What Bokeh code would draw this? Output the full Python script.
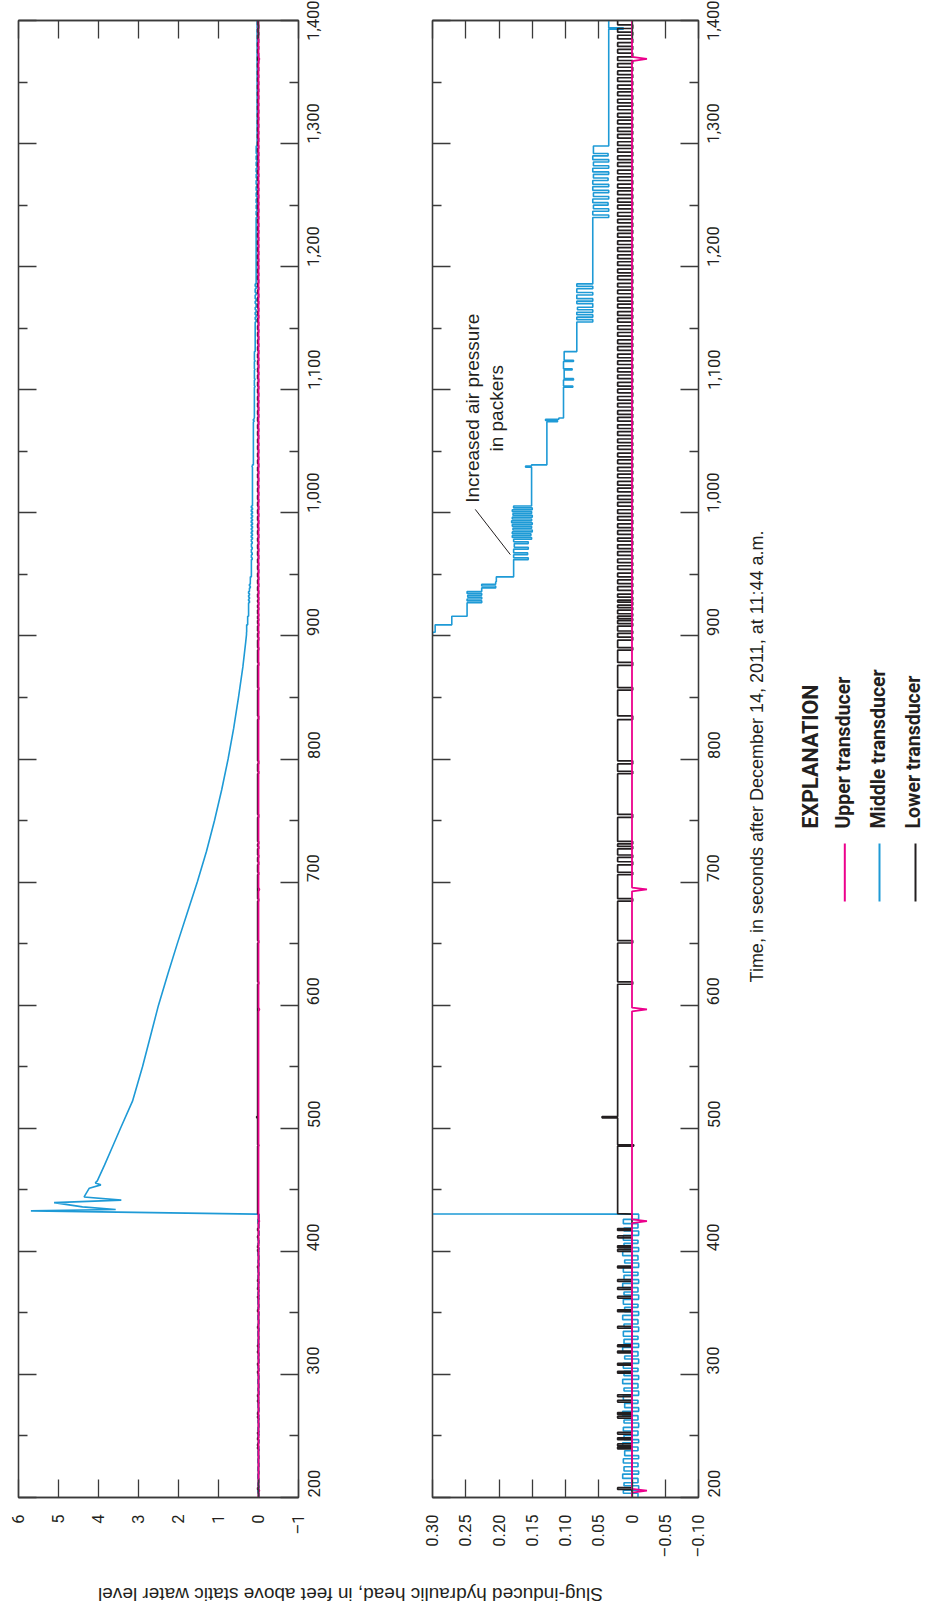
import math
from bokeh.plotting import figure
from bokeh.models import Range1d, LinearAxis, FixedTicker, CustomJSTickFormatter, NumeralTickFormatter, ColumnDataSource
from bokeh.layouts import row, column
from bokeh.core.properties import value
from bokeh.embed import file_html
from bokeh.resources import INLINE

# ---------------- data ----------------
time_ticks = [200, 300, 400, 500, 600, 700, 800, 900, 1000, 1100, 1200, 1300, 1400]
time_minor = [250, 350, 450, 550, 650, 750, 850, 950, 1050, 1150, 1250, 1350]
head_ticks_top = [-1, 0, 1, 2, 3, 4, 5, 6]
head_ticks_bottom = [-0.10, -0.05, 0.0, 0.05, 0.10, 0.15, 0.20, 0.25, 0.30]

# Upper transducer (pink): flat at zero with short negative spikes
upper_t = [200, 204.0, 205.5, 207.0, 423.0, 424.5, 426.0, 595.0, 596.5, 598.0,
           692.5, 694.0, 695.5, 1367.0, 1368.8, 1370.5, 1400]
upper_v = [0, 0, -0.0225, 0, 0, -0.0225, 0, 0, -0.0225, 0,
           0, -0.0225, 0, 0, -0.0225, 0, 0]

# Middle transducer (blue), before the slug: level changes (time, level)
mid_pre_t = [200.0, 203.5, 206.0, 209.5, 212.0, 215.5, 219.0, 221.5, 225.0, 228.0,
             231.5, 234.0, 238.0, 241.0, 244.5, 247.0, 250.5, 254.0, 257.0, 260.5,
             263.0, 266.5, 270.0, 273.0, 276.5, 279.0, 283.0, 286.5, 289.0, 292.5,
             296.0, 299.0, 302.5, 305.0, 309.0, 312.5, 315.0, 318.5, 322.0, 325.0,
             328.5, 331.0, 335.0, 338.5, 341.0, 344.5, 348.0, 351.0, 354.5, 357.0,
             361.0, 364.5, 367.0, 370.5, 374.0, 377.0, 380.5, 383.0, 387.0, 390.5,
             393.0, 396.5, 400.0, 403.0, 406.5, 409.0, 413.0, 416.5, 419.0, 422.5, 426.0]
mid_pre_v = [-0.009, 0.013, -0.010, 0.012, -0.009, 0.014, -0.010, 0.012, -0.009, 0.013,
             -0.010, 0.011, -0.009, 0.014, -0.010, 0.012, -0.009, 0.013, -0.010, 0.012,
             -0.009, 0.014, -0.010, 0.011, -0.009, 0.013, -0.010, 0.012, -0.009, 0.014,
             -0.010, 0.012, -0.009, 0.013, -0.010, 0.011, -0.009, 0.014, -0.010, 0.012,
             -0.009, 0.013, -0.010, 0.012, -0.009, 0.014, -0.010, 0.011, -0.009, 0.013,
             -0.010, 0.012, -0.009, 0.014, -0.010, 0.012, -0.009, 0.013, -0.010, 0.011,
             -0.009, 0.014, -0.010, 0.012, -0.009, 0.013, -0.010, 0.012, -0.009, 0.013, -0.010]

# Middle transducer: slug response and recovery (time, head)
mid_slug_t = [430.2, 432.9, 434.0, 436.1, 439.6, 441.6, 444.2, 451.3, 454.0, 455.6,
              457.2, 470, 485, 500, 522, 550, 575, 600, 625, 650,
              675, 700, 725, 750, 775, 800, 825, 850, 875, 895]
mid_slug_v = [0.0, 5.69, 3.57, 4.40, 5.11, 3.43, 4.36, 4.23, 3.94, 4.08,
              4.03, 3.85, 3.65, 3.45, 3.15, 2.90, 2.70, 2.50, 2.27, 2.03,
              1.78, 1.53, 1.30, 1.10, 0.92, 0.76, 0.62, 0.50, 0.39, 0.32]

# Middle transducer: stepwise tail (packer pressure increases), level changes
mid_tail_t = [901, 903, 909, 916, 927, 928.5, 930, 931.5, 933, 934.5,
              936, 939, 940.5, 942, 944, 948, 962, 963.5, 966, 967.5,
              970.5, 972, 975, 976.5, 978.5, 980, 981.5, 983, 984.5, 986,
              987.5, 989, 990.5, 992, 993.5, 995, 996.5, 998, 999.5, 1001,
              1002.5, 1004, 1005.5, 1037, 1038, 1039, 1074, 1075, 1076, 1077,
              1102, 1103, 1108, 1109, 1116, 1117, 1123, 1124, 1131, 1155,
              1157, 1159, 1161, 1163, 1165, 1167, 1170, 1172, 1174, 1177,
              1179, 1182, 1184, 1186, 1240, 1242, 1245, 1247, 1250, 1252,
              1255, 1257, 1260, 1262, 1265, 1267, 1270, 1272, 1275, 1277,
              1280, 1282, 1285, 1287, 1290, 1292, 1298, 1393, 1394]
mid_tail_v = [0.300, 0.296, 0.271, 0.248, 0.226, 0.248, 0.226, 0.247, 0.226, 0.248,
              0.226, 0.205, 0.226, 0.205, 0.204, 0.178, 0.156, 0.178, 0.157, 0.178,
              0.156, 0.177, 0.156, 0.178, 0.151, 0.180, 0.152, 0.180, 0.150, 0.179,
              0.151, 0.180, 0.150, 0.181, 0.151, 0.180, 0.150, 0.179, 0.151, 0.180,
              0.150, 0.178, 0.151, 0.160, 0.151, 0.128, 0.112, 0.130, 0.110, 0.103,
              0.089, 0.103, 0.088, 0.102, 0.090, 0.103, 0.088, 0.102, 0.083, 0.059,
              0.083, 0.059, 0.083, 0.059, 0.082, 0.059, 0.083, 0.059, 0.083, 0.059,
              0.083, 0.059, 0.083, 0.059, 0.035, 0.059, 0.035, 0.058, 0.036, 0.059,
              0.035, 0.058, 0.035, 0.059, 0.035, 0.059, 0.036, 0.058, 0.035, 0.059,
              0.035, 0.058, 0.035, 0.059, 0.036, 0.058, 0.035, 0.013, 0.035]

# Lower transducer (black): before the slug, base 0 with short rises
lower_pre_start = [206.5, 239.5, 242.0, 247.0, 251.5, 264.5, 267.5, 277.5, 282.0, 301.0,
                   307.5, 317.5, 322.5, 337.5, 351.0, 362.0, 369.0, 375.5, 386.5, 400.0,
                   403.0, 411.0, 417.0]
lower_pre_end = [208.0, 241.0, 243.5, 248.5, 253.0, 266.0, 269.0, 279.0, 283.5, 302.5,
                 309.0, 319.0, 324.0, 339.0, 352.5, 363.5, 370.5, 377.0, 388.0, 401.5,
                 404.5, 412.5, 418.5]
lower_pre_base = 0.0
lower_pre_level = 0.0216
# after the slug: base 0.0216 with dips / spikes
lower_post_base = 0.0216
lower_evt_start = [485.5, 508.5, 617.0, 650.5, 684.5, 706.0, 714.0, 720.0, 727.0, 731.0,
                   752.5, 788.0, 796.0, 832.0, 856.0, 876.0, 888.5, 896.5, 902.0, 908.0,
                   912.5, 916.0, 921.0, 925.0, 929.0,
                   934, 940, 945.5, 951, 957, 962.5, 968.5, 974, 979.5, 985.5,
                   991, 997, 1002.5, 1008.5, 1014, 1020, 1025.5, 1031.5, 1037, 1043,
                   1048.5, 1054.5, 1060, 1066, 1071.5, 1077.5, 1083, 1089, 1094.5, 1100.5,
                   1106, 1112, 1117.5, 1123.5, 1129, 1135, 1140.5, 1146.5, 1152, 1158,
                   1163.5, 1169.5, 1175, 1181, 1186.5, 1192.5, 1198, 1204, 1209.5, 1215.5,
                   1221, 1227, 1232.5, 1238.5, 1244, 1250, 1255.5, 1261.5, 1267, 1273,
                   1278.5, 1284.5, 1290, 1296, 1301.5, 1307.5, 1313, 1319, 1324.5, 1330.5,
                   1336, 1342, 1347.5, 1353.5, 1359, 1365, 1370.5, 1376.5, 1382, 1388, 1393.5]
lower_evt_end = [486.5, 509.5, 619.0, 652.5, 686.5, 708.0, 716.5, 722.0, 729.0, 733.0,
                 755.0, 790.0, 798.5, 835.0, 858.0, 878.5, 890.5, 899.0, 904.0, 910.0,
                 914.0, 918.0, 923.0, 927.5, 931.5,
                 937, 942.5, 948, 954, 959.5, 965.5, 971, 977, 982.5, 988,
                 994, 999.5, 1005.5, 1011, 1017, 1022.5, 1028.5, 1034, 1040, 1045.5,
                 1051.5, 1057, 1063, 1068.5, 1074.5, 1080, 1086, 1091.5, 1097.5, 1103,
                 1109, 1114.5, 1120.5, 1126, 1132, 1137.5, 1143.5, 1149, 1155, 1160.5,
                 1166.5, 1172, 1178, 1183.5, 1189.5, 1195, 1201, 1206.5, 1212.5, 1218,
                 1224, 1229.5, 1235.5, 1241, 1247, 1252.5, 1258.5, 1264, 1270, 1275.5,
                 1281.5, 1287, 1293, 1298.5, 1304.5, 1310, 1316, 1321.5, 1327.5, 1333,
                 1339, 1344.5, 1350.5, 1356, 1362, 1367.5, 1373.5, 1379, 1385, 1390.5, 1396.5]
lower_evt_level = [-0.0025, 0.045] + [-0.001] * (len(lower_evt_start) - 2)

legend_names = ["Upper transducer", "Middle transducer", "Lower transducer"]

# ---------------- building line vertices from the read values ----------------
def stairs(ts, vs, t_end):
    xs, ys = [], []
    for i, (t, v) in enumerate(zip(ts, vs)):
        tn = ts[i + 1] if i + 1 < len(ts) else t_end
        xs += [t, tn]
        ys += [v, v]
    return xs, ys

def pulses(t_from, t_to, base, starts, ends, levels):
    xs, ys = [t_from], [base]
    for a, b, lv in zip(starts, ends, levels):
        xs += [a, a, b, b]
        ys += [base, lv, lv, base]
    xs.append(t_to)
    ys.append(base)
    return xs, ys

a_t, a_v = stairs(mid_pre_t, mid_pre_v, 430.2)
c_t, c_v = stairs(mid_tail_t, mid_tail_v, 1400)
mid_t = a_t + mid_slug_t + c_t
mid_v = a_v + mid_slug_v + c_v

l1_t, l1_v = pulses(200, 430.3, lower_pre_base, lower_pre_start, lower_pre_end,
                    [lower_pre_level] * len(lower_pre_start))
l2_t, l2_v = pulses(430.6, 1400, lower_post_base, lower_evt_start, lower_evt_end, lower_evt_level)
lower_t = l1_t + l2_t
lower_v = l1_v + l2_v

PINK = "#EC008C"
BLUE = "#1E9AD6"
BLACK = "#231F20"
AX = "#3a3a3a"
TICKFONT = "Roboto"
SANS = "Liberation Sans"

src_upper = ColumnDataSource(dict(head=upper_v, time=upper_t))
src_mid = ColumnDataSource(dict(head=mid_v, time=mid_t))
src_lower = ColumnDataSource(dict(head=lower_v, time=lower_t))

EMPTY = CustomJSTickFormatter(code='return "";')

ROW_H = 1570          # height of the two panels' row
FRAME_TOP = 20
FRAME_BOTTOM = 1497


def style_axis(ax, ticker, label_font_px="16.5px"):
    ax.ticker = ticker
    ax.axis_line_color = AX
    ax.axis_line_width = 1.3
    ax.major_tick_line_color = AX
    ax.major_tick_line_width = 1.3
    ax.minor_tick_line_color = AX
    ax.minor_tick_line_width = 1.3
    ax.major_tick_in = 18
    ax.major_tick_out = 0
    ax.minor_tick_in = 9
    ax.minor_tick_out = 0
    ax.major_label_text_font = TICKFONT
    ax.major_label_text_font_size = label_font_px
    ax.major_label_text_color = BLACK


def panel(width, x_start, x_end, head_ticks, head_code, min_left, min_right):
    p = figure(width=width, height=ROW_H, x_range=Range1d(x_start, x_end),
               y_range=Range1d(200, 1400), output_backend="svg", toolbar_location=None,
               x_axis_location="below", y_axis_location="right",
               min_border_left=min_left, min_border_right=min_right,
               min_border_top=FRAME_TOP, min_border_bottom=ROW_H - FRAME_BOTTOM)
    p.grid.visible = False
    p.outline_line_color = AX
    p.outline_line_width = 1.3
    p.background_fill_color = "white"
    p.border_fill_color = "white"

    xa = p.xaxis[0]
    style_axis(xa, FixedTicker(ticks=head_ticks))
    xa.formatter = CustomJSTickFormatter(code=head_code)
    xa.major_label_orientation = math.pi / 2
    xa.major_label_standoff = 17

    ya = p.yaxis[0]
    style_axis(ya, FixedTicker(ticks=time_ticks, minor_ticks=time_minor))
    ya.formatter = NumeralTickFormatter(format="0,0")
    ya.major_label_orientation = math.pi / 2
    ya.major_label_standoff = 15

    top = LinearAxis()
    style_axis(top, FixedTicker(ticks=head_ticks), "1px")
    top.formatter = EMPTY
    top.major_label_standoff = 0
    p.add_layout(top, "above")

    left = LinearAxis()
    style_axis(left, FixedTicker(ticks=time_ticks, minor_ticks=time_minor), "1px")
    left.formatter = EMPTY
    left.major_label_standoff = 0
    p.add_layout(left, "left")

    p.line("head", "time", source=src_mid, line_color=BLUE, line_width=1.6)
    p.line("head", "time", source=src_lower, line_color=BLACK, line_width=1.7)
    p.line("head", "time", source=src_upper, line_color=PINK, line_width=1.8)
    return p


code_top = 'return tick < 0 ? "\\u2013" + Math.abs(tick).toFixed(0) : tick.toFixed(0);'
code_bot = ('if (Math.abs(tick) < 1e-9) return "0";'
            'return tick < 0 ? "\\u2013" + Math.abs(tick).toFixed(2) : tick.toFixed(2);')

p1 = panel(420, 6, -1, head_ticks_top, code_top, 18, 122)
p2 = panel(320, 0.30, -0.10, head_ticks_bottom, code_bot, 12, 42)

# annotation in the lower panel
p2.line(x=[0.2357, 0.183], y=[1002.8, 966.1], line_color=BLACK, line_width=1)
p2.text(x=[0.2395, 0.2040], y=[1085, 1085], text=["Increased air pressure", "in packers"],
        angle=math.pi / 2, text_font=value(SANS), text_font_size=value("19px"),
        text_align="center", text_baseline="alphabetic", text_color=BLACK)

# right strip: x-axis title and explanation (data units = page pixels)
pl = figure(width=185, height=ROW_H, x_range=Range1d(740, 925),
            y_range=Range1d(FRAME_BOTTOM, FRAME_TOP),
            output_backend="svg", toolbar_location=None, x_axis_location=None,
            y_axis_location=None, min_border_left=0, min_border_right=0,
            min_border_top=FRAME_TOP, min_border_bottom=ROW_H - FRAME_BOTTOM)
pl.grid.visible = False
pl.outline_line_color = None
pl.text(x=[756], y=[756], text=["Time, in seconds after December 14, 2011, at 11:44 a.m."],
        angle=math.pi / 2, text_font=value(SANS), text_font_size=value("18px"),
        text_align="center", text_baseline="alphabetic", text_color=BLACK)
pl.text(x=[810], y=[828], text=["EXPLANATION"], angle=math.pi / 2,
        text_font=value(TICKFONT), text_font_style="bold", text_font_size=value("21.5px"),
        text_align="left", text_baseline="alphabetic", text_color=BLACK)
pl.text(x=[843, 878, 912.5], y=[828, 828, 828], text=legend_names, angle=math.pi / 2,
        text_font=value(TICKFONT), text_font_style="bold", text_font_size=value("19.5px"),
        text_align="left", text_baseline="alphabetic", text_color=BLACK)
for lx, col in zip([844.3, 879.0, 915.0], [PINK, BLUE, BLACK]):
    pl.line(x=[lx, lx], y=[843, 901], line_color=col, line_width=2)

# bottom strip: upside-down y-axis title (data units = page pixels)
p3 = figure(width=925, height=1606 - ROW_H, x_range=Range1d(0, 925), y_range=Range1d(1606, ROW_H),
            output_backend="svg", toolbar_location=None, x_axis_location=None,
            y_axis_location=None, min_border=0)
p3.grid.visible = False
p3.outline_line_color = None
p3.text(x=[350], y=[1593.5], text=["Slug-induced hydraulic head, in feet above static water level"],
        angle=math.pi, text_font=value(SANS), text_font_size=value("19px"),
        text_align="center", text_baseline="alphabetic", text_color=BLACK)

layout = column(row(p1, p2, pl), p3)
open("out.html", "w").write(file_html(layout, INLINE))
